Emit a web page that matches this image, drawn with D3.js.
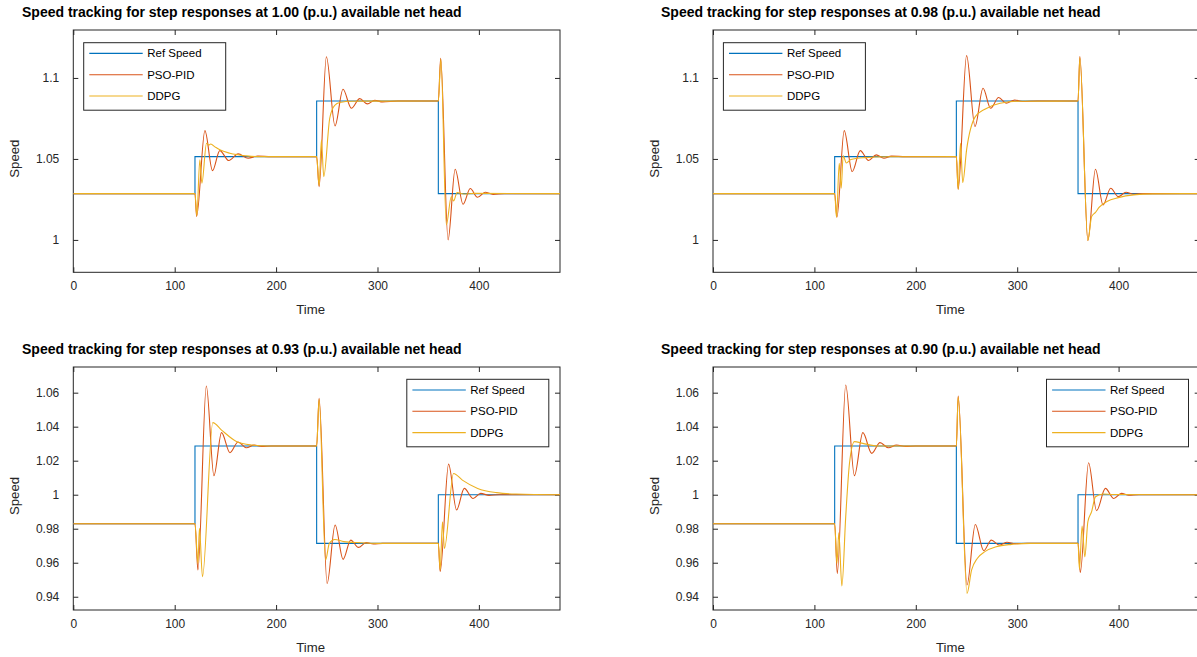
<!DOCTYPE html>
<html>
<head>
<meta charset="utf-8">
<style>
  body { margin: 0; background: #fff; }
  svg { display: block; }
  text { font-family: "Liberation Sans", Arial, Helvetica, sans-serif; }
</style>
</head>
<body>
<div id="graphic"></div>
<script src="https://d3js.org/d3.v7.min.js"></script>
<script>
// ---- data ----
var heads = ["1.00", "0.98", "0.93", "0.90"];
var seriesNames = ["Ref Speed", "PSO-PID", "DDPG"];
var timeTicks = [0, 100, 200, 300, 400];
var timeRange = [0, 480];
var stepTimes = [0, 120, 240, 360, 480];
var yTicksTop = [1, 1.05, 1.1];
var yTicksBottom = [0.94, 0.96, 0.98, 1, 1.02, 1.04, 1.06];

// reference speed levels between the step times
var refTop = [1.0286, 1.0514, 1.0858, 1.0286];
var refBottom = [0.9829, 1.0286, 0.9714, 1.0];

// [time, speed]
var pid100 = [[0,1.0286],[120,1.0286],[121.6,1.0144],[129.8,1.0675],[137.3,1.0428],[144.5,1.0551],[153.4,1.0490],[162.6,1.0531],[172.4,1.0504],[182,1.0518],[195,1.0514],[240,1.0514],
  [242.4,1.0329],[249.6,1.1131],[258.1,1.0704],[266,1.0930],[274.2,1.0813],[282.5,1.0872],[290,1.0840],[297.3,1.0862],[305,1.0852],[320,1.0858],[360,1.0858],
  [362.3,1.1122],[369.6,1.0000],[376.6,1.0436],[384.4,1.0220],[391.5,1.0317],[398.6,1.0263],[406.2,1.0294],[414,1.0281],[425,1.0286],[480,1.0286]];
var ddpg100 = [[0,1.0286],[120,1.0286],[121.8,1.0150],[124.8,1.0494],[126.8,1.0350],[131.4,1.0597],[133.5,1.0585],[135.5,1.0592],[140,1.0573],[144.5,1.0556],[154.4,1.0535],[170.8,1.0519],[185,1.0514],[240,1.0514],
  [242.4,1.0335],[244.7,1.0617],[247,1.0391],[252.9,1.0751],[257.8,1.0831],[262.8,1.0848],[275,1.0856],[360,1.0858],
  [362.5,1.1115],[367.9,1.0093],[372.8,1.0268],[375,1.0240],[378.5,1.0292],[385,1.0283],[395,1.0287],[480,1.0286]];

var pid098 = [[0,1.0286],[120,1.0286],[122.2,1.0140],[129.4,1.0675],[137.3,1.0422],[145.2,1.0551],[153.4,1.0490],[161,1.0525],[168.5,1.0504],[176,1.0517],[190,1.0514],[240,1.0514],
  [241.8,1.0313],[250.1,1.1138],[258.4,1.0700],[266.3,1.0936],[273.8,1.0813],[281.7,1.0879],[289.2,1.0844],[297.5,1.0864],[305,1.0855],[320,1.0858],[360,1.0858],
  [361.8,1.1132],[369.7,0.9996],[377.2,1.0436],[384.7,1.0216],[392.2,1.0319],[399.8,1.0267],[407.3,1.0294],[415,1.0282],[425,1.0286],[480,1.0286]];
var ddpg098 = [[0,1.0286],[120,1.0286],[121.8,1.0140],[124.5,1.0473],[126.4,1.0319],[128.4,1.0520],[131.5,1.0475],[136,1.0497],[150,1.0508],[170,1.0513],[240,1.0514],
  [241.8,1.0313],[244.1,1.0597],[246.3,1.0354],[250.1,1.0556],[258.7,1.0761],[268.1,1.0807],[283.2,1.0844],[302,1.0856],[360,1.0858],
  [361.8,1.1125],[369.7,0.9996],[373.4,1.0144],[377.2,1.0170],[381,1.0202],[388.5,1.0237],[399.8,1.0261],[414.8,1.0278],[433.6,1.0284],[480,1.0286]];

var pid093 = [[0,0.9829],[120,0.9829],[122.9,0.9557],[131.2,1.0639],[138.7,1.0112],[146.2,1.0365],[154.5,1.0247],[162.5,1.0310],[170.7,1.0276],[178.3,1.0292],[186,1.0284],[195,1.0286],[240,1.0286],
  [242.4,1.0567],[250.3,0.9478],[258.2,0.9822],[266.1,0.9620],[273.6,0.9733],[281.2,0.9690],[288.7,0.9718],[296,0.9710],[305,0.9714],[360,0.9714],
  [361.8,0.9547],[370.1,1.0180],[378,0.9910],[385.6,1.0037],[394.3,0.9978],[401.8,1.0008],[410,0.9996],[420,1.0],[480,1.0]];
var ddpg093 = [[0,0.9829],[120,0.9829],[122.9,0.9596],[124.4,0.9802],[127.4,0.9518],[137.6,1.0424],[146.2,1.0380],[161.3,1.0312],[176.4,1.0292],[191.5,1.0286],[240,1.0286],
  [242.4,1.0560],[248.8,0.9616],[252.5,0.9714],[257.8,0.9737],[266.9,0.9724],[282,0.9718],[300,0.9714],[360,0.9714],
  [361.8,0.9557],[364.1,0.9841],[366,0.9684],[375,1.0125],[383.7,1.0086],[398.8,1.0037],[417.6,1.0012],[436.5,1.0004],[480,1.0]];

var pid090 = [[0,0.9829],[120,0.9829],[122.6,0.9537],[130.9,1.0645],[139.5,1.0112],[147.8,1.0365],[156.5,1.0243],[164.7,1.0306],[173,1.0276],[181,1.0292],[190,1.0284],[200,1.0286],[240,1.0286],
  [241.8,1.0580],[250.5,0.9469],[258.7,0.9825],[267,0.9671],[274.5,0.9733],[282.4,0.9704],[290,0.9720],[298,0.9712],[310,0.9714],[360,0.9714],
  [362.2,0.9541],[370.4,1.0188],[378.3,0.9906],[387,1.0037],[395.3,0.9978],[402.8,1.0008],[410,0.9997],[420,1.0],[480,1.0]];
var ddpg090 = [[0,0.9829],[120,0.9829],[122.2,0.9596],[124.1,0.9776],[127.1,0.9463],[130.9,0.9871],[134.6,1.0184],[139.5,1.0312],[147.8,1.0302],[162.8,1.0286],[240,1.0286],
  [241.8,1.0575],[250.5,0.9420],[255,0.9557],[260.6,0.9625],[268.1,0.9665],[279.4,0.9694],[294.5,0.9708],[313,0.9714],[360,0.9714],
  [361.4,0.9561],[364,0.9816],[366.7,0.9635],[369.7,0.9841],[373.4,0.9900],[377.2,0.9988],[384.7,1.0004],[395,1.0001],[480,1.0]];

// ---- layout ----
var W = 1197, H = 657;
var colors = ["#0072BD", "#D95319", "#EDB120"];
var axisColor = "#262626";

var panels = [
  {head: heads[0], ref: refTop,    pid: pid100, ddpg: ddpg100, yTicks: yTicksTop,    ydom: [0.98, 1.1296],  left: 73.3, top: 30,  bottom: 272.3, titleX: 22,  legX: 10.4,  legDy: 12.7},
  {head: heads[1], ref: refTop,    pid: pid098, ddpg: ddpg098, yTicks: yTicksTop,    ydom: [0.98, 1.1296],  left: 713,  top: 30,  bottom: 272.3, titleX: 661, legX: 10.4,  legDy: 12.7},
  {head: heads[2], ref: refBottom, pid: pid093, ddpg: ddpg093, yTicks: yTicksBottom, ydom: [0.9322, 1.0751], left: 73.3, top: 367, bottom: 610,   titleX: 22,  legX: 333.5, legDy: 12.3},
  {head: heads[3], ref: refBottom, pid: pid090, ddpg: ddpg090, yTicks: yTicksBottom, ydom: [0.9322, 1.0751], left: 713,  top: 367, bottom: 610,   titleX: 661, legX: 333.5, legDy: 12.3}
];
var plotW = 486.7;

var svg = d3.select("#graphic").append("svg")
  .attr("width", W)
  .attr("height", H);

panels.forEach(function (p, i) {
  var x = d3.scaleLinear().domain(timeRange).range([p.left, p.left + plotW]);
  var y = d3.scaleLinear().domain(p.ydom).range([p.bottom, p.top]);
  var g = svg.append("g");

  g.append("clipPath").attr("id", "clip" + i)
    .append("rect")
    .attr("x", p.left).attr("y", p.top)
    .attr("width", plotW).attr("height", p.bottom - p.top);

  // box
  g.append("rect")
    .attr("x", p.left).attr("y", p.top)
    .attr("width", plotW).attr("height", p.bottom - p.top)
    .attr("fill", "#fff")
    .attr("stroke", axisColor)
    .attr("stroke-width", 1);

  // axes, ticks pointing inward
  var xb = g.append("g").attr("transform", "translate(0," + p.bottom + ")")
    .call(d3.axisBottom(x).tickValues(timeTicks).tickSizeInner(-5).tickSizeOuter(0).tickPadding(9.5).tickFormat(d3.format("d")));
  var xt = g.append("g").attr("transform", "translate(0," + p.top + ")")
    .call(d3.axisTop(x).tickValues(timeTicks).tickSizeInner(-5).tickSizeOuter(0).tickFormat(""));
  var yl = g.append("g").attr("transform", "translate(" + p.left + ",0)")
    .call(d3.axisLeft(y).tickValues(p.yTicks).tickSizeInner(-5).tickSizeOuter(0).tickPadding(14)
      .tickFormat(function (d) { return String(+d.toFixed(2)); }));
  var yr = g.append("g").attr("transform", "translate(" + (p.left + plotW) + ",0)")
    .call(d3.axisRight(y).tickValues(p.yTicks).tickSizeInner(-5).tickSizeOuter(0).tickFormat(""));

  [xb, xt, yl, yr].forEach(function (a) {
    a.select(".domain").remove();
    a.selectAll(".tick line").attr("stroke", axisColor);
    a.selectAll(".tick text")
      .attr("fill", axisColor)
      .style("font-size", "12px")
      .style("font-family", '"Liberation Sans", Arial, Helvetica, sans-serif');
  });

  // reference step
  var refPts = p.ref.map(function (v, k) { return [stepTimes[k], v]; });
  refPts.push([stepTimes[4], p.ref[3]]);

  var stepLine = d3.line()
    .x(function (d) { return x(d[0]); })
    .y(function (d) { return y(d[1]); })
    .curve(d3.curveStepAfter);
  var smoothLine = d3.line()
    .x(function (d) { return x(d[0]); })
    .y(function (d) { return y(d[1]); })
    .curve(d3.curveMonotoneX);

  var lines = g.append("g").attr("clip-path", "url(#clip" + i + ")");
  lines.append("path").datum(refPts)
    .attr("d", stepLine).attr("fill", "none")
    .attr("stroke", colors[0]).attr("stroke-width", 1.1);
  lines.append("path").datum(p.pid)
    .attr("d", smoothLine).attr("fill", "none")
    .attr("stroke", colors[1]).attr("stroke-width", 1.1);
  lines.append("path").datum(p.ddpg)
    .attr("d", smoothLine).attr("fill", "none")
    .attr("stroke", colors[2]).attr("stroke-width", 1.1);

  // title and labels
  g.append("text")
    .attr("x", p.titleX).attr("y", p.top - 13)
    .style("font-size", "14px").style("font-weight", "bold")
    .attr("fill", "#000")
    .text("Speed tracking for step responses at " + p.head + " (p.u.) available net head");

  g.append("text")
    .attr("x", p.left + plotW / 2 - 6).attr("y", p.bottom + 42)
    .attr("text-anchor", "middle")
    .style("font-size", "13.2px")
    .attr("fill", axisColor)
    .text("Time");

  g.append("text")
    .attr("transform", "translate(" + (p.left - 54) + "," + ((p.top + p.bottom) / 2 + 7.5) + ") rotate(-90)")
    .attr("text-anchor", "middle")
    .style("font-size", "13.2px")
    .attr("fill", axisColor)
    .text("Speed");

  // legend
  var lx = p.left + p.legX, ly = p.top + p.legDy;
  var leg = g.append("g").attr("transform", "translate(" + lx + "," + ly + ")");
  leg.append("rect")
    .attr("width", 142).attr("height", 67.5)
    .attr("fill", "#fff").attr("stroke", axisColor).attr("stroke-width", 1);
  seriesNames.forEach(function (name, k) {
    var ry = 10.7 + k * 21.3;
    leg.append("line")
      .attr("x1", 5.6).attr("x2", 59).attr("y1", ry).attr("y2", ry)
      .attr("stroke", colors[k]).attr("stroke-width", 1.1);
    leg.append("text")
      .attr("x", 63.5).attr("y", ry).attr("dy", "0.35em")
      .style("font-size", "11.5px")
      .attr("fill", "#000")
      .text(name);
  });
});
</script>
</body>
</html>
